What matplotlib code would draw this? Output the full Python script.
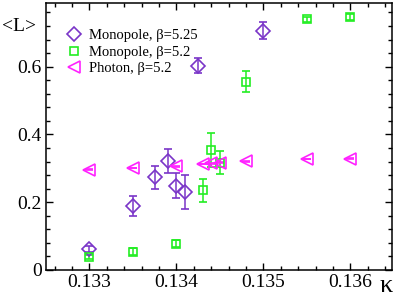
import matplotlib
matplotlib.use("Agg")
import matplotlib.pyplot as plt
from matplotlib.lines import Line2D
from matplotlib.ticker import MultipleLocator

plt.rcParams["font.family"] = ["Liberation Serif", "DejaVu Serif"]

# Monopole, beta=5.25
K_M525 = [0.1330, 0.1335, 0.13375, 0.1339, 0.1340, 0.1341, 0.13425, 0.1350]
L_M525 = [0.062, 0.188, 0.273, 0.321, 0.248, 0.230, 0.603, 0.706]
E_M525 = [0.008, 0.030, 0.035, 0.035, 0.037, 0.050, 0.022, 0.025]

# Monopole, beta=5.2
K_M52 = [0.1330, 0.1335, 0.1340, 0.1343, 0.1344, 0.1345, 0.1348, 0.1355, 0.1360]
L_M52 = [0.039, 0.054, 0.078, 0.235, 0.353, 0.317, 0.556, 0.740, 0.747]
E_M52 = [0.006, 0.010, 0.010, 0.033, 0.050, 0.034, 0.032, 0.008, 0.008]

# Photon, beta=5.2
K_PH = [0.1330, 0.1335, 0.1340, 0.1343, 0.1344, 0.1345, 0.1348, 0.1355, 0.1360]
L_PH = [0.296, 0.301, 0.306, 0.313, 0.315, 0.317, 0.321, 0.328, 0.329]
E_PH = [0.001] * len(K_PH)

LABELS = ["Monopole, β=5.25", "Monopole, β=5.2", "Photon, β=5.2"]
PURPLE, GREEN, MAGENTA = "#7a35c8", "#22ee22", "#ff22ff"

fig = plt.figure(figsize=(3.95, 2.97), dpi=100)
ax = fig.add_axes([0.1165, 0.091, 0.876, 0.9])

common = dict(ls="none", mfc="none", capsize=2.8, elinewidth=1.1, capthick=1.1, mew=1.2)
sets = [(K_M525, L_M525, E_M525, "D", 7.5, PURPLE),
        (K_M52, L_M52, E_M52, "s", 6, GREEN),
        (K_PH, L_PH, E_PH, "<", 8, MAGENTA)]
handles = []
for (k, l, e, mk, ms, col), lab in zip(sets, LABELS):
    ax.errorbar(k, l, yerr=e, fmt=mk, ms=ms, color=col, **common)
    handles.append(Line2D([], [], ls="none", marker=mk, ms=ms, mfc="none", mec=col, mew=1.2, label=lab))

ax.set_xlim(0.1325, 0.13648)
ax.set_ylim(0, 0.789)
ax.xaxis.set_minor_locator(MultipleLocator(0.0002))
ax.yaxis.set_minor_locator(MultipleLocator(0.04))
ax.set_xticks([0.133, 0.134, 0.135, 0.136])
ax.set_xticklabels(["0.133", "0.134", "0.135", "0.136"])
ax.set_yticks([0, 0.2, 0.4, 0.6])
ax.set_yticklabels(["0", "0.2", "0.4", "0.6"])
ax.tick_params(which="both", direction="in", top=True, right=True, labelsize=14, width=1)
ax.tick_params(which="major", length=5, pad=3)
ax.tick_params(which="minor", length=3)
for s in ax.spines.values():
    s.set_linewidth(1.1)

fig.text(0.005, 0.912, "<L>", fontsize=14, ha="left", va="center")
fig.text(0.978, 0.0, "κ", fontsize=19, ha="center", va="bottom")

ax.legend(handles=handles, loc="upper left", bbox_to_anchor=(0.04, 0.925), frameon=False,
          fontsize=10.5, handletextpad=0.4, borderaxespad=0, labelspacing=0.25, handlelength=1.2)

fig.savefig("out.png", dpi=100)
